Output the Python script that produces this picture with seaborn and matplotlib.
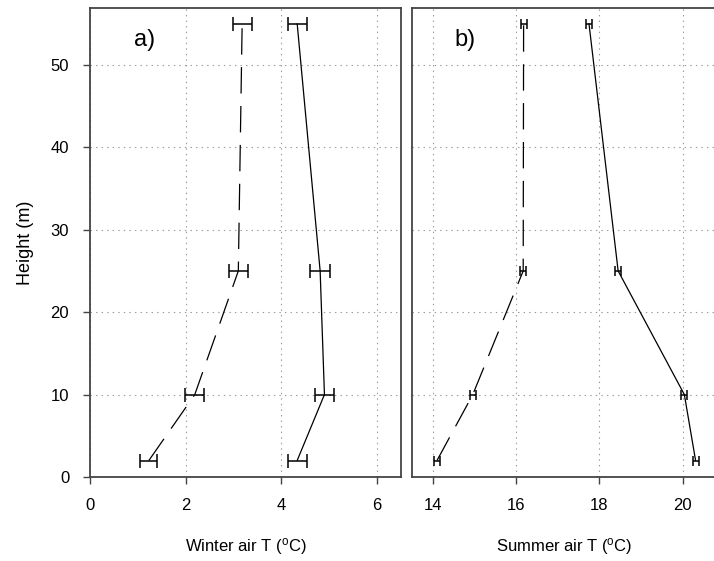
import matplotlib
matplotlib.use("Agg")
import matplotlib.pyplot as plt
import seaborn as sns
import pandas as pd

heights = [2, 10, 25, 55]
winter_dashed = [1.23, 2.19, 3.10, 3.18]
winter_dashed_err = [0.18, 0.2, 0.2, 0.2]
winter_solid = [4.33, 4.90, 4.81, 4.33]
winter_solid_err = [0.2, 0.2, 0.21, 0.2]
summer_dashed = [14.10, 14.96, 16.17, 16.18]
summer_dashed_err = [0.07, 0.07, 0.07, 0.07]
summer_solid = [20.31, 20.04, 18.45, 17.75]
summer_solid_err = [0.07, 0.07, 0.07, 0.07]

winter_ticks = [0, 2, 4, 6]
summer_ticks = [14, 16, 18, 20]
y_ticks = [0, 10, 20, 30, 40, 50]

sns.set_style("white")
plt.rcParams['font.family'] = ['Liberation Sans', 'DejaVu Sans']
plt.rcParams['lines.scale_dashes'] = False
plt.rcParams['text.color'] = 'black'
plt.rcParams['axes.labelcolor'] = 'black'
plt.rcParams['xtick.color'] = 'black'
plt.rcParams['ytick.color'] = 'black'

fig = plt.figure(figsize=(7.14, 5.61), dpi=100)
ax1 = fig.add_axes([90/714, 1-477/561, (401-90)/714, (477-8)/561])
ax2 = fig.add_axes([412/714, 1-477/561, (716-412)/714, (477-8)/561])

def draw(ax, xd, ed, xs, es, cap):
    df_d = pd.DataFrame({"T": xd, "H": heights})
    df_s = pd.DataFrame({"T": xs, "H": heights})
    sns.lineplot(data=df_d, x="T", y="H", sort=False, estimator=None, ax=ax,
                 color="black", linewidth=0.9, dashes=False)
    ax.lines[-1].set_dashes((19, 9))
    sns.lineplot(data=df_s, x="T", y="H", sort=False, estimator=None, ax=ax,
                 color="black", linewidth=0.9)
    ax.errorbar(xd, heights, xerr=ed, fmt="none", ecolor="black", elinewidth=1.1,
                capsize=cap, capthick=1.1)
    ax.errorbar(xs, heights, xerr=es, fmt="none", ecolor="black", elinewidth=1.1,
                capsize=cap, capthick=1.1)
    ax.set_ylim(0, 56.9)
    ax.set_yticks(y_ticks)
    ax.grid(True, linestyle=(0, (1, 3)), color="#999999", linewidth=0.8)
    for s in ax.spines.values():
        s.set_color("#444444")
        s.set_linewidth(1.3)
    ax.tick_params(axis="both", direction="out", length=5, width=1, color="#444444",
                   labelsize=12, pad=10, labelcolor="black")

draw(ax1, winter_dashed, winter_dashed_err, winter_solid, winter_solid_err, 4.7)
draw(ax2, summer_dashed, summer_dashed_err, summer_solid, summer_solid_err, 3.5)

ax1.set_xlim(0, 6.5)
ax1.set_xticks(winter_ticks)
ax1.tick_params(axis="both", left=True, bottom=True)
ax1.set_xlabel("Winter air T ($\\mathregular{^{o}}$C)", fontsize=12, labelpad=17)
ax1.set_ylabel("Height (m)", fontsize=13, labelpad=12)
ax1.text(0.14, 0.92, "a)", transform=ax1.transAxes, fontsize=17)

ax2.set_xlim(13.5, 20.8)
ax2.set_xticks(summer_ticks)
ax2.tick_params(axis="y", left=False, labelleft=False)
ax2.tick_params(axis="x", bottom=True)
ax2.set_ylabel("")
ax2.set_xlabel("Summer air T ($\\mathregular{^{o}}$C)", fontsize=12, labelpad=17)
ax2.text(0.14, 0.92, "b)", transform=ax2.transAxes, fontsize=17)

fig.savefig("out.png", dpi=100)
